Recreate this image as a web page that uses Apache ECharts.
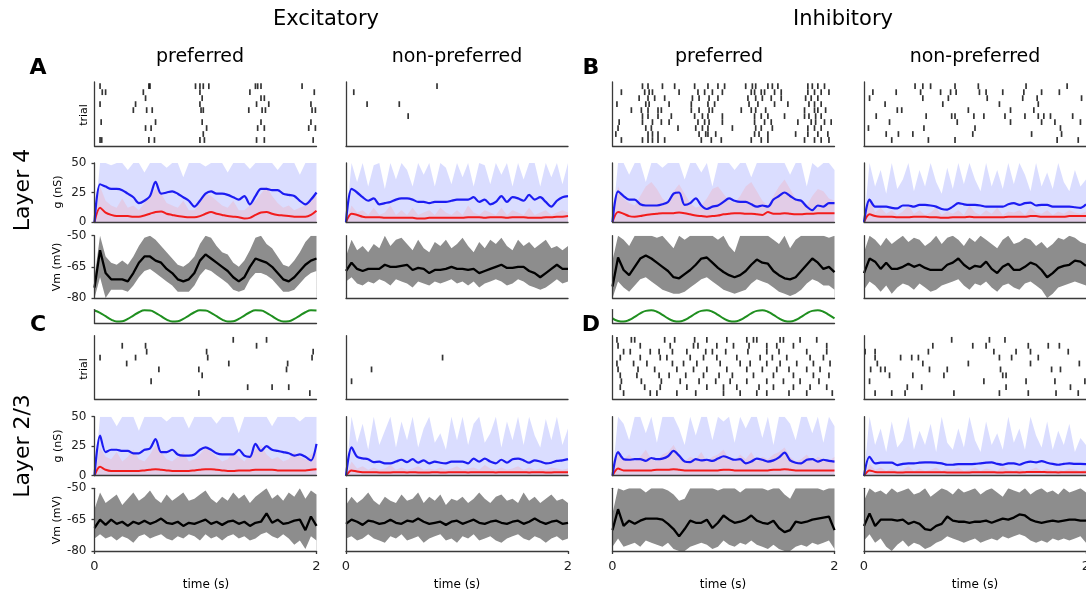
<!DOCTYPE html>
<html><head><meta charset="utf-8">
<script src="https://cdn.jsdelivr.net/npm/echarts/dist/echarts.min.js"></script>
<style>html,body{margin:0;padding:0;background:#fff}#c{width:1086px;height:595px}</style>
</head><body><div id="c"></div><script>
// ---------------- DATA ----------------
// time axis labels
const timeTicks = ['0', '2'];
// raster plots: spike times (s) per trial row 0..9
const spk_e4p = [[.05,.065,.49,.54,.95,.99,1.46,1.53,1.97],[.98],[.46,.51,1.01,1.47,1.53,1.93,1.99],[.06,.55,.97,1.50,1.95],[],[.35,.47,.52,.96,.98,1.39,1.51,1.54,1.96,1.99],[.05,.37,.95,1.46,1.57,1.95],[.46,.97,1.50,1.53],[.07,.10,.44,.95,1.40,1.98],[.05,.49,.50,.91,.95,.98,1.03,1.45,1.47,1.50,1.87]];
const spk_e4n = [[],[],[],[],[.56],[],[.19,.48],[],[.07],[.82]];
const spk_i4p = [[.08,.27,.32,.36,.41,.47,.80,.89,.98,1.25,1.34,1.40,1.73,1.82,1.88,1.95],[.03,.32,.36,.41,.78,.84,.86,.93,1.28,1.32,1.40,1.65,1.76,1.85,1.94],[.05,.30,.35,.59,.75,.81,.86,1.08,1.29,1.34,1.44,1.76,1.82,1.88],[.06,.27,.36,.44,.51,.77,.83,.87,.99,1.28,1.37,1.43,1.67,1.79,1.83,1.91,1.97],[.27,.32,.41,.53,.74,.81,.86,.99,1.28,1.34,1.40,1.55,1.73,1.77,1.83,1.88],[.17,.26,.32,.41,.44,.71,.78,.87,.90,1.16,1.25,1.29,1.38,1.73,1.82,1.85,1.92],[.04,.30,.33,.51,.71,.86,.92,1.23,1.31,1.46,1.58,1.77,1.82,1.88],[.24,.32,.38,.47,.72,.78,.87,.95,1.22,1.29,1.35,1.43,1.52,1.74,1.79,1.85],[.08,.29,.33,.36,.60,.77,.83,.90,.99,1.25,1.28,1.34,1.37,1.46,1.52,1.76,1.82,1.88,1.95],[.27,.32,.45,.56,.74,.86,.95,1.01,1.20,1.26,1.29,1.40,1.44,1.49,1.76,1.80,1.85,1.91]];
const spk_i4n = [[.25,.58,.82,1.74,1.93],[.20,.31,.44,.98,1.51,1.78],[.04,.54,1.00,1.77],[.23,.84,1.32,1.60,1.72,1.95],[.11,.56,.79,.82,.99,1.08,1.27,1.45,1.57,1.62,1.68,1.88],[.30,.34,.94,1.32,1.53],[.19,.71,1.22,1.57],[.05,.53,.76,1.11,1.43,1.56,1.96],[.08,.29,.51,.69,.78,.83,1.04,1.10,1.25,1.44,1.60,1.76],[.46,.53,.60,.82,1.03,1.46,1.83]];
const spk_e23p = [[.94,1.94],[1.38,1.60,1.75],[.51],[.97],[.58,.94,1.73],[.29,1.21,1.74],[.05,.37,1.02,1.96],[.47,1.01,1.97],[.25,.46,1.46],[1.25,1.55]];
const spk_e23n = [[],[],[.05],[],[.23],[],[.87],[],[],[]];
const spk_i23p = [[.10,.34,.40,.58,.75,1.00,1.15,1.30,1.39,1.59,1.75,1.98],[.07,.29,.43,.67,.85,1.00,1.12,1.32,1.45,1.63,1.78,1.93],[.08,.26,.44,.61,.78,.93,1.06,1.21,1.39,1.54,1.69,1.86],[.07,.22,.42,.51,.66,.82,.96,1.08,1.27,1.45,1.63,1.81,1.95],[.05,.23,.38,.58,.73,.85,1.03,1.21,1.35,1.48,1.59,1.75,1.87],[.04,.19,.31,.54,.64,.76,.97,1.15,1.24,1.39,1.51,1.66,1.81,1.96],[.07,.25,.43,.49,.70,.82,.94,1.12,1.33,1.44,1.57,1.78,1.90],[.10,.16,.34,.42,.54,.67,.84,.90,1.02,1.22,1.39,1.50,1.75,1.93],[.05,.25,.52,.73,.77,.94,1.09,1.23,1.39,1.48,1.63,1.93],[.04,.17,.20,.47,.56,.74,.85,1.03,1.21,1.27,1.30,1.51,1.54,1.69,1.84]];
const spk_i23n = [[.10,.25,.37,.81,1.22,1.48,1.73,1.93],[.39,.52,1.28,1.86],[.05,1.08,1.46,1.72,1.99],[.23,.44,.72,1.25,1.28],[.06,.15,.19,.59,.75,1.23,1.69,1.77],[.12,.53,.94,1.50,1.94],[.10,.33,.43,.49,1.22,1.33,1.57],[.01,.10,.58,1.17,1.37,1.50,1.84],[.62,.98,1.10,1.48,1.66,1.76],[.79,1.13,1.27]];

// conductances (nS), 41 samples over 0..2 s: trial-mean blue/red, and upper extent of single trials
const gB_e4p = [0,32,30,28,28,27,24,21,16,18,22,34,24,25,26,24,21,18,13,18,24,26,24,24,23,21,19,22,15,22,28,28,27,27,24,23,22,18,15,19,25];
const gR_e4p = [0,12,8,6,5,5,5,4.5,4.5,5.5,7,8.5,9,7,6,5,4.5,4,4,5,7,8.5,7,6,5,4.5,4,3,3.5,6,8,8.5,7,6,5.5,5,4.5,4.5,4.5,6,9.5];
const hiB_e4p = [0,50,50,48,50,50,44,50,50,42,50,50,50,46,50,50,38,50,50,50,47,50,50,50,42,50,50,50,45,50,50,50,50,44,50,50,50,40,50,50,50];
const hiR_e4p = [0,30,18,14,12,20,12,14,10,16,22,28,24,16,14,12,18,10,10,16,24,22,18,14,12,18,10,10,14,18,24,30,22,16,12,14,10,12,14,20,24];
const gB_e4n = [0,28,25,21,18,20,15,16,17,19,20,20,19,17,17,16,17,17,17,18,19,19,19,21,17,19,15,17,22,17,21,20,18,23,19,21,17,13,18,21,22];
const gR_e4n = [0,7,6,4.5,4,4,4,3.5,3.5,3.5,3.5,3.5,3.5,3,3,3.5,3.5,3.5,3.5,3.5,3.5,3.5,4,4,4,3.5,4,4,4,3.5,4,4,4,3.5,3.5,3.5,4,4,4.5,4.5,5];
const hiB_e4n = [0,50,34,50,30,48,50,28,50,36,50,44,30,50,40,50,30,50,46,32,50,38,50,30,50,48,32,50,40,50,30,50,36,50,50,30,50,38,50,32,50];
const hiR_e4n = [0,14,8,10,6,12,6,8,14,6,10,6,12,6,8,10,6,12,8,6,10,6,14,8,6,10,8,6,12,6,10,8,6,12,6,8,10,6,8,10,8];
const gB_i4p = [0,26,22,19,19,15,14,14,14,15,17,24,25,14.5,16,20,14,11,13,14,17,20,18,17,17,15,13,14,13,19,22,25,22,19,18,13,10,14,13,16,16];
const gR_i4p = [0,8.5,7,5,4.5,5,6,6.5,7,7.5,7.5,7.5,8,7.5,6.5,5.5,5,4.5,5,5.5,6.5,7,7.5,7.5,7,7,6.5,6,8.5,7,7,7.5,7,6.5,6.5,7,7,7.5,7.5,7.5,7.5];
const hiB_i4p = [0,50,50,40,50,50,34,50,50,46,50,50,50,36,50,50,42,50,30,50,50,50,44,50,50,38,50,50,50,50,50,50,40,50,50,30,50,46,50,50,44];
const hiR_i4p = [0,30,20,16,14,22,30,34,28,20,16,26,32,24,16,12,14,20,28,30,24,18,16,22,30,34,26,18,14,22,30,36,28,20,16,14,22,28,26,20,18];
const gB_i4n = [0,19,13,13,13,12,11.5,14,14,13,14.5,14.5,14,13,11,10.5,13,16,15,14.5,14.5,14,13,13,13,13,15,16,14.5,16,16.5,14,14.5,14.5,13,13,13,13,12.5,12,15];
const gR_i4n = [0,6.5,5,4.5,4.5,4.5,4,4,4,4.5,4.5,4.5,4,4,3.5,3.5,4,4,4,4.5,4,4,4,4,4,4,4.5,4.5,4.5,4.5,5,5,4.5,4.5,4.5,4.5,4.5,5,5,5,5];
const hiB_i4n = [0,50,30,44,24,50,28,36,50,26,44,30,50,34,24,46,28,50,32,50,36,26,50,30,44,28,50,32,50,40,26,50,30,42,28,50,34,26,44,30,36];
const hiR_i4n = [0,20,8,12,7,10,6,9,14,7,10,6,8,12,6,9,7,10,6,14,8,6,10,7,12,6,9,8,10,6,12,8,7,10,6,9,7,10,8,7,9];
const gB_e23p = [0,34,20,22,22,21,21,19,19,22,23,31,20,20,22,18,17,17,18,22,24,22,19,18,18,18,22,17,16,27,21,25,22,21,20,19,17,18,16,13,27];
const gR_e23p = [0,7.5,5,4,4,4,4,4,4,4.5,5,5.5,5,4.5,4,4,4,4,4.5,5,5.5,5.5,5,4.5,4,4,4.5,4.5,4.5,5,5,5,5,4.5,4.5,4.5,4.5,4.5,4.5,5,5.5];
const hiB_e23p = [0,50,50,50,42,50,50,50,38,50,50,50,50,46,50,50,50,40,50,50,50,50,44,50,50,50,36,50,50,50,50,50,42,50,50,50,50,46,50,50,50];
const hiR_e23p = [0,24,16,14,20,12,16,22,14,12,18,26,20,14,12,16,20,12,14,18,24,20,16,12,14,20,16,12,18,22,26,18,14,16,12,14,20,16,14,18,22];
const gB_e23n = [0,24,16,14.7,14,11.5,12,10.5,10.5,12,13.5,11.5,14,11,13,10.5,12,11,10.5,12,12,12,10.5,14.5,12,14.5,12,10.5,13.5,11,14,14.5,13,11,13,12,10.5,11,12.5,13,14];
const gR_e23n = [0,4.5,3.5,3,3,3,2.8,2.8,2.8,3,3,2.8,3,2.8,2.8,2.8,3,2.8,2.8,3,3,3,2.8,3,3,3,3,2.8,3,3,3,3,3,2.8,3,3,2.8,2.8,3,3,3];
const hiB_e23n = [0,50,28,44,22,50,26,38,50,24,46,30,50,24,40,50,28,36,22,50,30,50,26,44,50,28,36,50,24,46,30,50,26,50,34,24,48,30,50,26,40];
const hiR_e23n = [0,12,6,8,5,7,5,6,9,5,7,5,6,8,5,6,5,7,5,6,8,5,6,7,5,9,6,5,7,5,6,8,5,7,5,6,5,7,6,5,6];
const gB_i23p = [0,20,14,13.5,14,14,12.5,15,14,14.5,16.5,21,17,12,11.5,14,13,13.5,12.5,14.5,16.5,15,13.5,14,10.5,12,14.5,13.5,12,13,15.5,19.5,13,11,10.5,13.5,14,12,13.5,12.5,12];
const gR_i23p = [0,6,4.5,4.5,4.5,4.5,4.5,4.5,5,5,5,5.5,5,4.5,4.5,4.5,4.5,4.5,4.5,4.5,5,5,4.5,4.5,4.5,4.5,4.5,4.5,4.5,5,5,5.5,5,4.5,4.5,4.5,4.5,4.5,4.5,4.5,4.5];
const hiB_i23p = [0,50,44,30,50,50,36,50,28,50,50,50,40,26,50,34,50,50,30,50,46,50,28,50,40,50,50,32,50,26,50,50,44,30,50,50,36,50,28,50,42];
const hiR_i23p = [0,22,14,18,12,16,22,14,12,18,20,26,18,12,16,14,20,12,16,18,22,14,12,18,14,20,12,16,14,18,20,24,16,12,14,18,12,16,14,12,16];
const gB_i23n = [0,16,10.5,11,11,11,9,10,10.5,10.5,11,11.3,11.3,11,10.5,9.3,9.3,9.8,9.8,9.8,10,10.5,11,11.3,10,9.3,10.5,10.5,9.3,11,12,11.3,12.3,11,10,9.3,10,10.5,10,10,9.8];
const gR_i23n = [0,4.5,3.2,3,3,3,2.8,2.8,3,3,3,3,3,3,3,2.8,2.8,2.8,2.8,2.8,3,3,3,3,2.8,2.8,3,3,2.8,3,3.2,3.2,3.2,3,3,2.8,3,3,3,3,3];
const hiB_i23n = [0,50,26,40,20,46,24,30,50,22,38,26,44,20,50,28,22,40,24,50,30,20,46,26,36,22,50,28,40,22,50,34,24,46,22,38,26,44,20,32,26];
const hiR_i23n = [0,10,5,7,4,6,4,5,8,4,6,4,5,7,4,6,5,7,4,5,7,4,6,5,4,8,5,4,6,4,5,7,4,6,4,5,4,6,5,4,5];

// membrane potential (mV), 41 samples: trial mean, and upper / lower extent of trials
const vm_e4p = [-75,-57,-68,-71,-71,-71,-72,-68,-63,-60,-60,-62,-63,-66,-68,-71,-72,-71,-68,-62,-59,-61,-63,-65,-67,-70,-72,-70,-65,-61,-62,-63,-65,-68,-71,-72,-70,-67,-64,-62,-61];
const up_e4p = [-70,-50,-60,-63,-64,-62,-64,-60,-55,-51,-50,-52,-55,-58,-61,-64,-65,-63,-60,-54,-50,-51,-55,-58,-59,-63,-65,-62,-57,-51,-50,-54,-56,-60,-64,-65,-62,-58,-53,-50,-50];
const lo_e4p = [-80,-70,-80,-76,-76,-76,-77,-74,-70,-67,-66,-68,-70,-72,-74,-77,-77,-77,-74,-69,-66,-67,-69,-71,-73,-76,-77,-76,-71,-68,-68,-69,-71,-74,-77,-77,-76,-73,-70,-68,-67];
const vm_e4n = [-67,-63,-66,-67,-66,-66,-66,-64,-65,-65,-64.5,-64,-66.5,-65.5,-66,-68,-66.5,-66.5,-66,-65,-66,-66,-66.5,-66,-68,-67,-66,-65,-64,-65.5,-65.5,-65,-65,-67,-68,-70,-68,-66,-64,-66,-66];
const up_e4n = [-60,-52,-57,-55,-58,-54,-56,-50,-55,-52,-51,-54,-57,-52,-56,-58,-53,-55,-52,-56,-54,-51,-55,-58,-53,-56,-52,-54,-51,-55,-57,-52,-55,-53,-56,-54,-52,-56,-55,-57,-55];
const lo_e4n = [-72,-70,-73,-74,-72,-73,-71,-72,-74,-71,-72,-73,-75,-72,-73,-74,-72,-73,-72,-71,-73,-72,-74,-72,-75,-73,-72,-71,-72,-74,-73,-71,-72,-74,-75,-76,-75,-73,-71,-73,-72];
const vm_i4p = [-74.5,-60.5,-66.5,-69,-65,-61,-59.5,-61,-63,-65,-67,-70,-70.5,-68.5,-66.5,-64,-61,-60.5,-63,-65.5,-67.5,-69,-70,-69,-67,-64,-61.5,-63,-63.5,-67,-69,-70.5,-71,-70,-67,-64,-61,-63,-66,-65,-67.5];
const up_i4p = [-62,-50,-52,-55,-50,-50,-50,-50,-51,-50,-53,-56,-50,-52,-50,-50,-50,-50,-50,-52,-50,-55,-58,-50,-50,-50,-50,-50,-50,-52,-54,-50,-56,-52,-50,-50,-50,-50,-50,-51,-50];
const lo_i4p = [-80,-72,-75,-77,-74,-71,-70,-72,-74,-76,-77,-78,-78,-77,-75,-73,-71,-70,-72,-74,-76,-77,-78,-77,-76,-73,-71,-72,-73,-75,-77,-78,-79,-78,-76,-73,-71,-72,-74,-74,-76];
const vm_i4n = [-68,-61,-62.5,-66,-63,-66,-66,-65,-63.5,-65,-64,-65.5,-66.5,-66.5,-66.5,-64,-63,-61,-64,-66,-64.5,-65,-62.5,-66,-68,-65,-63.5,-66.5,-66.5,-65,-63,-64,-66.5,-70,-68,-65.5,-64.5,-64,-62,-62.5,-64.5];
const up_i4n = [-58,-50,-52,-55,-51,-54,-52,-50,-53,-51,-52,-55,-53,-50,-54,-51,-50,-52,-55,-51,-53,-50,-52,-54,-56,-52,-50,-54,-53,-51,-52,-55,-53,-56,-54,-51,-52,-50,-51,-53,-54];
const lo_i4n = [-76,-72,-74,-77,-74,-78,-75,-73,-74,-76,-73,-75,-77,-76,-74,-73,-72,-71,-74,-76,-73,-74,-72,-75,-77,-74,-73,-75,-76,-73,-72,-74,-76,-80,-78,-75,-74,-73,-72,-73,-74];
const vm_e23p = [-69,-65,-67.5,-65,-67,-66,-68,-66,-67,-65.5,-67,-66,-64.5,-66.5,-67,-66,-68,-66.5,-67,-66,-65,-67,-66,-67.5,-66,-65.5,-67,-66,-68,-66.5,-66,-62,-66.5,-65,-67,-66.5,-65.5,-65,-70,-63.5,-68];
const up_e23p = [-60,-52,-57,-55,-53,-58,-55,-52,-56,-54,-51,-55,-57,-53,-56,-54,-52,-56,-55,-53,-51,-55,-57,-54,-56,-52,-55,-53,-57,-54,-52,-50,-55,-53,-56,-52,-54,-50,-55,-51,-53];
const lo_e23p = [-74,-72,-74,-73,-75,-73,-74,-76,-73,-72,-74,-73,-72,-74,-75,-73,-74,-72,-73,-75,-72,-74,-73,-75,-73,-72,-74,-73,-75,-74,-72,-71,-73,-74,-72,-74,-77,-75,-79,-73,-75];
const vm_e23n = [-67,-65,-66,-67.5,-65.5,-66,-67,-66.5,-65,-66.5,-67,-65.5,-66,-64.5,-66,-67,-66.5,-66,-67.5,-66,-65.5,-67,-66,-65,-66.5,-67,-66,-65.5,-66.5,-67,-66,-65.5,-67,-66,-64.5,-66,-67,-66,-65.5,-67,-66.5];
const up_e23n = [-58,-54,-57,-55,-52,-56,-58,-54,-56,-57,-53,-56,-55,-52,-57,-54,-56,-53,-58,-55,-56,-54,-57,-55,-52,-55,-57,-54,-53,-56,-55,-57,-52,-56,-54,-57,-55,-53,-56,-55,-57];
const lo_e23n = [-74,-73,-75,-74,-72,-74,-75,-76,-73,-74,-72,-75,-74,-73,-76,-74,-73,-72,-75,-74,-76,-73,-74,-72,-75,-74,-73,-75,-76,-74,-73,-72,-74,-75,-73,-74,-76,-74,-73,-75,-74];
const vm_i23p = [-70,-60,-68,-65.5,-67,-65.5,-64.5,-64.5,-64.5,-65,-67,-69.5,-73,-69.5,-65.5,-66.5,-66.5,-65,-69,-66.5,-63,-65,-66.5,-66,-65,-63,-65.5,-66.5,-67,-65.5,-69,-71,-70,-66,-66.5,-66,-65,-64.5,-64,-63.5,-70];
const up_i23p = [-62,-50,-51,-50,-50,-50,-52,-50,-50,-50,-51,-53,-56,-55,-50,-50,-50,-50,-50,-51,-50,-50,-50,-52,-50,-50,-50,-50,-51,-50,-50,-53,-55,-50,-50,-50,-50,-50,-51,-50,-50];
const lo_i23p = [-78,-74,-78,-77,-76,-78,-75,-76,-77,-78,-76,-79,-80,-80,-78,-77,-76,-77,-79,-78,-75,-77,-78,-76,-77,-75,-77,-78,-79,-77,-79,-80,-80,-78,-77,-78,-76,-77,-76,-75,-79];
const vm_i23n = [-68,-62,-68,-65,-65,-65,-65.5,-65,-67,-66,-67,-69.5,-70,-68,-67,-63.5,-65.5,-66,-66,-66.5,-66,-66,-65.5,-66.5,-65.5,-64.5,-65,-64,-62.5,-63,-65,-66,-66.5,-66,-65.5,-66,-65.5,-65,-65,-65.5,-65.5];
const up_i23n = [-56,-50,-52,-51,-53,-50,-52,-51,-50,-53,-52,-50,-54,-52,-50,-51,-53,-50,-52,-51,-50,-53,-51,-50,-52,-54,-50,-51,-52,-50,-53,-51,-50,-52,-51,-53,-50,-52,-51,-50,-52];
const lo_i23n = [-75,-72,-76,-74,-78,-80,-77,-75,-78,-76,-77,-79,-78,-76,-75,-73,-74,-75,-76,-75,-74,-76,-75,-74,-75,-73,-74,-73,-72,-73,-75,-76,-75,-76,-74,-75,-74,-75,-74,-73,-76];

// stimulus (green), 41 samples, normalised
const stim_exc = [0.93,0.54,-0.06,-0.64,-0.97,-0.93,-0.54,0.06,0.64,0.97,0.93,0.54,-0.06,-0.64,-0.97,-0.93,-0.54,0.06,0.64,0.97,0.93,0.54,-0.06,-0.64,-0.97,-0.93,-0.54,0.06,0.64,0.97,0.93,0.54,-0.06,-0.64,-0.97,-0.93,-0.54,0.06,0.64,0.97,0.93];
const stim_inh = [-0.43,-0.88,-0.99,-0.73,-0.19,0.43,0.88,0.99,0.73,0.19,-0.43,-0.88,-0.99,-0.73,-0.19,0.43,0.88,0.99,0.73,0.19,-0.43,-0.88,-0.99,-0.73,-0.19,0.43,0.88,0.99,0.73,0.19,-0.43,-0.88,-0.99,-0.73,-0.19,0.43,0.88,0.99,0.73,0.19,-0.43];

// ---------------- BUILD ----------------
const FONT = '"DejaVu Sans", sans-serif';
const AX = {color:'#3a3a3a', width:1.3};
const colLeft = [94.5, 346, 612.5, 864], W = 222;
const box = {r4:[82,64], g4:[163,59], v4:[235.7,62.3], s:[309.6,13.7], r23:[335.7,63.3], g23:[416.7,59], v23:[488.3,62.7]};
const ser = v => v.map((y,i)=>[2*i/(v.length-1), y]);

const panels = [
  {c:0,L:4,spk:spk_e4p,gB:gB_e4p,gR:gR_e4p,hiB:hiB_e4p,hiR:hiR_e4p,vm:vm_e4p,up:up_e4p,lo:lo_e4p,stim:stim_exc},
  {c:1,L:4,spk:spk_e4n,gB:gB_e4n,gR:gR_e4n,hiB:hiB_e4n,hiR:hiR_e4n,vm:vm_e4n,up:up_e4n,lo:lo_e4n},
  {c:2,L:4,spk:spk_i4p,gB:gB_i4p,gR:gR_i4p,hiB:hiB_i4p,hiR:hiR_i4p,vm:vm_i4p,up:up_i4p,lo:lo_i4p,stim:stim_inh},
  {c:3,L:4,spk:spk_i4n,gB:gB_i4n,gR:gR_i4n,hiB:hiB_i4n,hiR:hiR_i4n,vm:vm_i4n,up:up_i4n,lo:lo_i4n},
  {c:0,L:23,spk:spk_e23p,gB:gB_e23p,gR:gR_e23p,hiB:hiB_e23p,hiR:hiR_e23p,vm:vm_e23p,up:up_e23p,lo:lo_e23p},
  {c:1,L:23,spk:spk_e23n,gB:gB_e23n,gR:gR_e23n,hiB:hiB_e23n,hiR:hiR_e23n,vm:vm_e23n,up:up_e23n,lo:lo_e23n},
  {c:2,L:23,spk:spk_i23p,gB:gB_i23p,gR:gR_i23p,hiB:hiB_i23p,hiR:hiR_i23p,vm:vm_i23p,up:up_i23p,lo:lo_i23p},
  {c:3,L:23,spk:spk_i23n,gB:gB_i23n,gR:gR_i23n,hiB:hiB_i23n,hiR:hiR_i23n,vm:vm_i23n,up:up_i23n,lo:lo_i23n}
];

const grids=[], xAxes=[], yAxes=[], series=[];
function addGrid(c, b, yCfg, xCfg){
  const i = grids.length;
  grids.push({left:colLeft[c], top:b[0], width:W, height:b[1], containLabel:false, outerBoundsMode:'none'});
  xAxes.push(Object.assign({gridIndex:i,type:'value',min:0,max:2,z:10,axisLine:{show:true,onZero:false,lineStyle:AX},axisTick:{show:false},axisLabel:{show:false},splitLine:{show:false}}, xCfg||{}));
  yAxes.push(Object.assign({gridIndex:i,type:'value',z:10,axisLine:{show:true,onZero:false,lineStyle:AX},axisTick:{show:false},axisLabel:{show:false},splitLine:{show:false}}, yCfg||{}));
  return i;
}
const lab = (show) => show ? {axisLabel:{show:true,fontFamily:FONT,fontSize:12,color:'#222',margin:8}, axisTick:{show:true,length:3,lineStyle:AX}} : {};
const line = (i, data, extra) => Object.assign({type:'line',xAxisIndex:i,yAxisIndex:i,data:data,showSymbol:false,symbol:'none',silent:true,animation:false}, extra);

panels.forEach(p=>{
  const first = p.c===0, L4 = p.L===4;
  // raster
  let i = addGrid(p.c, L4?box.r4:box.r23, {min:-1,max:9.7});
  series.push({type:'scatter',xAxisIndex:i,yAxisIndex:i,symbol:'rect',symbolSize:[1.7,5.8],itemStyle:{color:'#000'},silent:true,animation:false,
    data:p.spk.flatMap((ts,r)=>ts.map(t=>[t,r]))});
  // conductance
  i = addGrid(p.c, L4?box.g4:box.g23, Object.assign({min:0,max:50,interval:25}, lab(first)));
  series.push(line(i, ser(p.hiB), {lineStyle:{width:0,opacity:0}, areaStyle:{color:'rgba(150,158,255,0.5)'}}));
  series.push(line(i, ser(p.hiR), {lineStyle:{width:0,opacity:0}, areaStyle:{color:'rgba(255,140,140,0.30)'}}));
  series.push(line(i, ser(p.gR), {smooth:0.3, lineStyle:{color:'#f21c1c',width:2}}));
  series.push(line(i, ser(p.gB), {smooth:0.3, lineStyle:{color:'#1c1cf2',width:2.2}}));
  // membrane potential: grey band between lower and upper extent of trials
  const bottom = !L4;
  i = addGrid(p.c, L4?box.v4:box.v23, Object.assign({min:-80,max:-50,interval:15}, lab(first)),
      bottom ? {interval:2, axisLabel:{show:true,fontFamily:FONT,fontSize:13,color:'#222',margin:9,formatter:v=>timeTicks[Math.round(v/2)]}, axisTick:{show:true,length:3,lineStyle:AX}} : {});
  series.push(line(i, ser(p.up), {lineStyle:{width:0,opacity:0}, areaStyle:{origin:'start',color:'#8d8d8d',opacity:1}}));
  series.push(line(i, ser(p.lo), {lineStyle:{width:0,opacity:0}, areaStyle:{origin:'start',color:'#ffffff',opacity:1}}));
  series.push(line(i, ser(p.vm), {lineStyle:{color:'#000',width:2.3}}));
  // stimulus
  if (p.stim){
    i = addGrid(p.c, box.s, {min:-1.3,max:1.1});
    series.push(line(i, ser(p.stim), {smooth:true, lineStyle:{color:'#1f8f1f',width:2}}));
  }
});

const txt = (text, x, y, size, opts) => Object.assign({type:'text', x:x, y:y, silent:true,
  style:{text:text, font:(opts&&opts.bold?'bold ':'')+size+'px '+FONT, fill:'#000', align:'center', verticalAlign:'middle', textAlign:'center', textVerticalAlign:'middle'}}, opts&&opts.rot?{rotation:Math.PI/2}:{});
const graphics = [
  txt('Excitatory',326,20,21), txt('Inhibitory',843,20,21),
  txt('preferred',200,57,19), txt('non-preferred',457,57,19), txt('preferred',719,57,19), txt('non-preferred',975,57,19),
  txt('A',38,68,22,{bold:true}), txt('B',591,68,22,{bold:true}), txt('C',38,325,22,{bold:true}), txt('D',591,325,22,{bold:true}),
  txt('Layer 4',23,190,22,{rot:true}), txt('Layer 2/3',23,446,22,{rot:true}),
  txt('trial',84,115,11,{rot:true}), txt('g (nS)',58,192,11,{rot:true}), txt('Vm (mV)',57,267,11,{rot:true}),
  txt('trial',84,369,11,{rot:true}), txt('g (nS)',58,446,11,{rot:true}), txt('Vm (mV)',57,520,11,{rot:true}),
  txt('time (s)',206,585,12), txt('time (s)',457,585,12), txt('time (s)',723,585,12), txt('time (s)',975,585,12)
];

const chart = echarts.init(document.getElementById('c'), null, {renderer:'canvas'});
chart.setOption({animation:false, backgroundColor:'#fff', grid:grids, xAxis:xAxes, yAxis:yAxes, series:series, graphic:graphics});
</script></body></html>
